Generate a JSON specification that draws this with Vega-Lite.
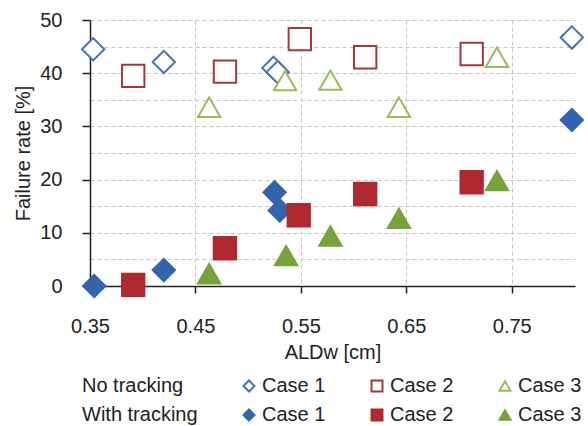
{
  "$schema": "https://vega.github.io/schema/vega-lite/v6.json",
  "width": 485,
  "height": 266,
  "autosize": {"type": "none"},
  "padding": {"left": 90, "top": 20, "right": 13, "bottom": 140},
  "background": "white",
  "config": {
    "view": {"stroke": null},
    "font": "Liberation Sans",
    "axis": {
      "labelFont": "Liberation Sans",
      "titleFont": "Liberation Sans",
      "labelFontSize": 20,
      "titleFontSize": 20,
      "titleFontWeight": "normal",
      "labelColor": "#222",
      "titleColor": "#222",
      "domainColor": "#222",
      "domainWidth": 1.5,
      "tickColor": "#222",
      "tickWidth": 1.5,
      "gridColor": "#c4c4c4",
      "gridDash": [4, 3],
      "gridWidth": 1,
      "labelFlush": false
    },
    "legend": {
      "title": null,
      "orient": "none",
      "legendX": -31,
      "legendY": 356,
      "direction": "horizontal",
      "columns": 4,
      "columnPadding": 41,
      "rowPadding": 9,
      "symbolSize": 120,
      "symbolStrokeWidth": 2,
      "labelOffset": 3,
      "labelFont": "Liberation Sans",
      "labelFontSize": 20,
      "labelColor": "#222",
      "labelLimit": 300
    }
  },
  "data": {
    "values": [
      {"x": 0.353, "y": 44.5, "series": "No tracking Case 1"},
      {"x": 0.42, "y": 42.1, "series": "No tracking Case 1"},
      {"x": 0.524, "y": 41.0, "series": "No tracking Case 1"},
      {"x": 0.528, "y": 40.2, "series": "No tracking Case 1"},
      {"x": 0.807, "y": 46.7, "series": "No tracking Case 1"},
      {"x": 0.391, "y": 39.5, "series": "No tracking Case 2"},
      {"x": 0.478, "y": 40.3, "series": "No tracking Case 2"},
      {"x": 0.549, "y": 46.4, "series": "No tracking Case 2"},
      {"x": 0.611, "y": 43.0, "series": "No tracking Case 2"},
      {"x": 0.712, "y": 43.6, "series": "No tracking Case 2"},
      {"x": 0.463, "y": 33.6, "series": "No tracking Case 3"},
      {"x": 0.535, "y": 38.6, "series": "No tracking Case 3"},
      {"x": 0.578, "y": 38.7, "series": "No tracking Case 3"},
      {"x": 0.643, "y": 33.6, "series": "No tracking Case 3"},
      {"x": 0.736, "y": 43.0, "series": "No tracking Case 3"},
      {"x": 0.354, "y": 0.0, "series": "With tracking Case 1"},
      {"x": 0.42, "y": 3.0, "series": "With tracking Case 1"},
      {"x": 0.525, "y": 17.6, "series": "With tracking Case 1"},
      {"x": 0.53, "y": 14.2, "series": "With tracking Case 1"},
      {"x": 0.807, "y": 31.2, "series": "With tracking Case 1"},
      {"x": 0.391, "y": 0.2, "series": "With tracking Case 2"},
      {"x": 0.478, "y": 7.1, "series": "With tracking Case 2"},
      {"x": 0.548, "y": 13.3, "series": "With tracking Case 2"},
      {"x": 0.611, "y": 17.3, "series": "With tracking Case 2"},
      {"x": 0.712, "y": 19.5, "series": "With tracking Case 2"},
      {"x": 0.463, "y": 2.3, "series": "With tracking Case 3"},
      {"x": 0.536, "y": 5.7, "series": "With tracking Case 3"},
      {"x": 0.578, "y": 9.4, "series": "With tracking Case 3"},
      {"x": 0.643, "y": 12.7, "series": "With tracking Case 3"},
      {"x": 0.736, "y": 19.8, "series": "With tracking Case 3"}
    ]
  },
  "mark": {"type": "point", "size": 500, "strokeWidth": 2, "opacity": 1},
  "encoding": {
    "x": {
      "field": "x",
      "type": "quantitative",
      "scale": {"domain": [0.35, 0.81], "nice": false, "zero": false},
      "axis": {
        "title": "ALDw [cm]",
        "values": [0.35, 0.45, 0.55, 0.65, 0.75],
        "format": ".2f",
        "tickSize": 7,
        "labelPadding": 23,
        "titlePadding": 6,
        "grid": true
      }
    },
    "y": {
      "field": "y",
      "type": "quantitative",
      "scale": {"domain": [0, 50], "nice": false},
      "axis": {
        "title": "Failure rate [%]",
        "values": [0, 5, 10, 15, 20, 25, 30, 35, 40, 45, 50],
        "labelExpr": "datum.value % 10 === 0 ? datum.label : ''",
        "tickOpacity": {"condition": {"test": "datum.value % 10 === 0", "value": 1}, "value": 0},
        "tickSize": 8,
        "labelPadding": 20,
        "titlePadding": 6,
        "grid": true
      }
    },
    "shape": {
      "field": "series",
      "type": "nominal",
      "scale": {
        "domain": ["No tracking", "No tracking Case 1", "No tracking Case 2", "No tracking Case 3", "With tracking", "With tracking Case 1", "With tracking Case 2", "With tracking Case 3"],
        "range": ["circle", "diamond", "square", "triangle-up", "circle", "diamond", "square", "triangle-up"]
      },
      "legend": {
        "labelExpr": "replace(datum.label, /^(No|With) tracking /, '')"
      }
    },
    "stroke": {
      "field": "series",
      "type": "nominal",
      "scale": {
        "domain": ["No tracking", "No tracking Case 1", "No tracking Case 2", "No tracking Case 3", "With tracking", "With tracking Case 1", "With tracking Case 2", "With tracking Case 3"],
        "range": ["transparent", "#4572B8", "#A8373C", "#9BBB59", "transparent", "#3464AE", "#B0292E", "#76A33A"]
      },
      "legend": {
        "labelExpr": "replace(datum.label, /^(No|With) tracking /, '')"
      }
    },
    "fill": {
      "field": "series",
      "type": "nominal",
      "scale": {
        "domain": ["No tracking", "No tracking Case 1", "No tracking Case 2", "No tracking Case 3", "With tracking", "With tracking Case 1", "With tracking Case 2", "With tracking Case 3"],
        "range": ["transparent", "white", "white", "white", "transparent", "#3464AE", "#B0292E", "#76A33A"]
      },
      "legend": {
        "labelExpr": "replace(datum.label, /^(No|With) tracking /, '')"
      }
    }
  }
}
